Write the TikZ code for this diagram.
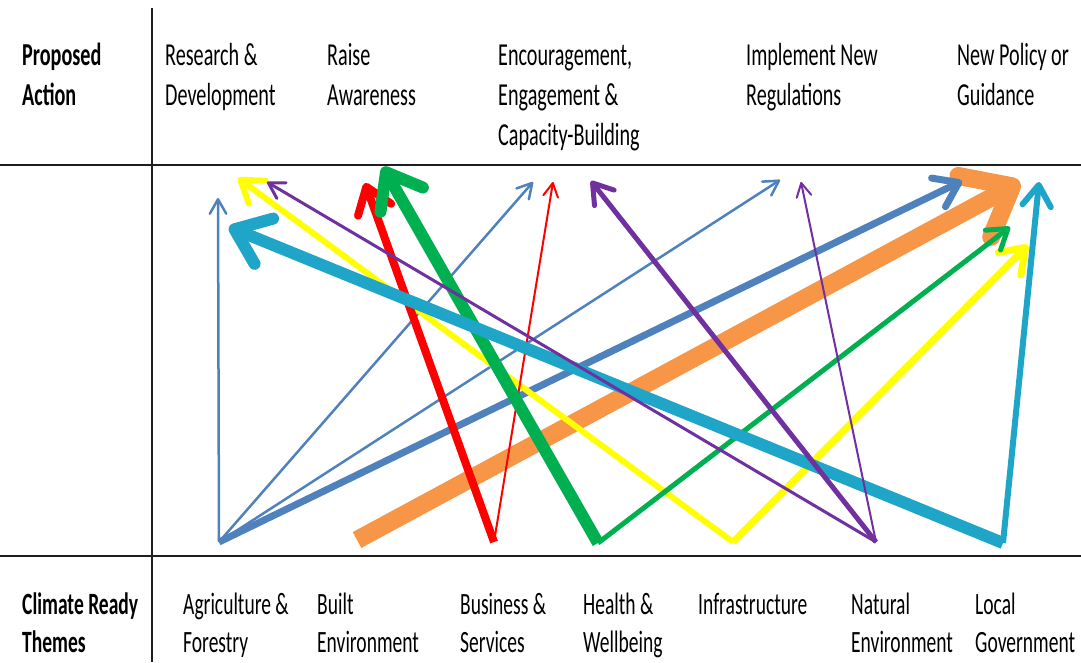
\documentclass[tikz,border=0pt]{standalone}
\usepackage{fontspec}
\setmainfont{Carlito}[FakeStretch=0.63]
\usetikzlibrary{arrows.meta}

\definecolor{cBlue}{HTML}{4F81BD}
\definecolor{cOrange}{HTML}{F79646}
\definecolor{cRed}{HTML}{FF0000}
\definecolor{cGreen}{HTML}{00B050}
\definecolor{cYellow}{HTML}{FFFF00}
\definecolor{cPurple}{HTML}{7030A0}
\definecolor{cCyan}{HTML}{1FA5C8}
\definecolor{cRule}{HTML}{1E1E1E}

\begin{document}
\begin{tikzpicture}[x=1pt,y=-1pt,
  rule/.style={line width=2pt, draw=cRule},
  link/.style={-{Straight Barb[round,length=10pt 1.8,width=8pt 3.4]}},
  hdr/.style={anchor=base west, inner sep=0pt, align=left, text=black,
              font=\fontsize{32}{40}\selectfont},
  thm/.style={anchor=base west, inner sep=0pt, align=left, text=black,
              font=\fontsize{31}{38}\selectfont}]
\useasboundingbox (0,0) rectangle (1081,662);

% table rules
\coordinate (vtop) at (152,8);
\coordinate (vbot) at (152,662);
\coordinate (h1l) at (0,165);
\coordinate (h1r) at (1081,165);
\coordinate (h2l) at (0,556);
\coordinate (h2r) at (1081,556);
\draw[rule] (vtop) -- (vbot);
\draw[rule] (h1l) -- (h1r);
\draw[rule] (h2l) -- (h2r);

% header row: proposed actions (nodes sit on the baseline of their last line)
\node[hdr, font=\fontsize{32}{40}\selectfont\bfseries] (pa) at (22,105) {Proposed\\Action};
\node[hdr] (rd) at (165,105) {Research \&\\Development};
\node[hdr] (ra) at (327,105) {Raise\\Awareness};
\node[hdr] (en) at (498,145) {Encouragement,\\Engagement \&\\Capacity-Building};
\node[hdr] (im) at (746,105) {Implement New\\Regulations};
\node[hdr] (po) at (957,105) {New Policy or\\Guidance};

% footer row: climate ready themes
\node[thm, font=\fontsize{31}{38}\selectfont\bfseries] (crt) at (22,652) {Climate Ready\\Themes};
\node[thm] (t1) at (183,652) {Agriculture \&\\Forestry};
\node[thm] (t2) at (317,652) {Built\\Environment};
\node[thm] (t3) at (460,652) {Business \&\\Services};
\node[thm] (t4) at (583,652) {Health \&\\Wellbeing};
\node[thm] (t5) at (698,614) {Infrastructure};
\node[thm] (t6) at (851,652) {Natural\\Environment};
\node[thm] (t7) at (975,652) {Local\\Government};

% sources (themes)
\coordinate (agri) at (219,542);
\coordinate (built) at (357,540);
\coordinate (busi) at (494,542);
\coordinate (health) at (598,543);
\coordinate (infra) at (733,542);
\coordinate (natural) at (876,542);
\coordinate (localgov) at (1003,543);

% targets (actions)
\coordinate (rdA) at (218,198);
\coordinate (rdB) at (238,178);
\coordinate (rdC) at (267,182);
\coordinate (rdD) at (229,227);
\coordinate (raA) at (365,183);
\coordinate (raB) at (383,167);
\coordinate (enA) at (533,182);
\coordinate (enB) at (553,182);
\coordinate (enC) at (591,181);
\coordinate (imA) at (780,180);
\coordinate (imB) at (801,182);
\coordinate (poA) at (962,181);
\coordinate (poB) at (1020,182);
\coordinate (poC) at (1010,227);
\coordinate (poD) at (1028,245);
\coordinate (poE) at (1039,182);

% built environment
\draw[link, draw=cOrange, line width=18pt] (built) -- (poB);
% agriculture & forestry
\draw[link, draw=cBlue, line width=2.5pt] (agri) -- (rdA);
\draw[link, draw=cBlue, line width=2.5pt] (agri) -- (enA);
\draw[link, draw=cBlue, line width=2.5pt] (agri) -- (imA);
\draw[link, draw=cBlue, line width=7pt] (agri) -- (poA);
% infrastructure
\draw[link, draw=cYellow, line width=6pt] (infra) -- (rdB);
\draw[link, draw=cYellow, line width=7pt] (infra) -- (poD);
% business & services
\draw[link, draw=cRed, line width=8pt] (busi) -- (raA);
\draw[link, draw=cRed, line width=2pt] (busi) -- (enB);
% health & wellbeing
\draw[link, draw=cGreen, line width=12pt] (health) -- (raB);
\draw[link, draw=cGreen, line width=5pt] (health) -- (poC);
% local government
\draw[link, draw=cCyan, line width=12pt] (localgov) -- (rdD);
\draw[link, draw=cCyan, line width=6pt] (localgov) -- (poE);
% natural environment
\draw[link, draw=cPurple, line width=3pt] (natural) -- (rdC);
\draw[link, draw=cPurple, line width=5pt] (natural) -- (enC);
\draw[link, draw=cPurple, line width=2pt] (natural) -- (imB);
\end{tikzpicture}
\end{document}
